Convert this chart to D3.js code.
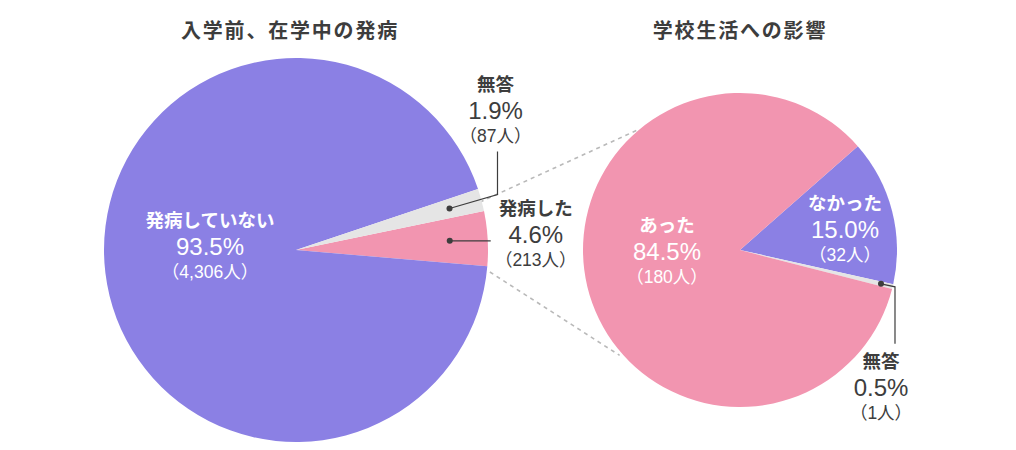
<!DOCTYPE html>
<html>
<head>
<meta charset="utf-8">
<script src="https://cdn.jsdelivr.net/npm/d3@7"></script>
<style>
  body { margin: 0; background: #fff; }
  text { font-family: "Liberation Sans", "Noto Sans CJK JP", sans-serif; }
</style>
</head>
<body>
<svg id="chart" width="1016" height="450"></svg>
<script>
// data
var onsetNames = ["発病した", "発病していない", "無答"];
var onsetPct = [4.6, 93.5, 1.9];
var onsetCount = ["213", "4,306", "87"];

var schoolNames = ["なかった", "無答", "あった"];
var schoolPct = [15.0, 0.5, 84.5];
var schoolCount = ["32", "1", "180"];

var svg = d3.select("#chart");
var rad = Math.PI / 180;

var purple = "#8b80e4", pink = "#f295b0", grey = "#e5e5e5", ink = "#3d3d3d";

// left pie + right pie setup
var left = {cx: 296, cy: 250, r: 192, start: 78.3, colors: [pink, purple, grey],
  names: onsetNames, pct: onsetPct, count: onsetCount, title: "入学前、在学中の発病", titleX: 290};
var right = {cx: 740, cy: 250, r: 157, start: 48.6, colors: [purple, grey, pink],
  names: schoolNames, pct: schoolPct, count: schoolCount, title: "学校生活への影響", titleX: 740};

function polar(p, deg, dist){
  return [p.cx + Math.sin(deg * rad) * dist, p.cy - Math.cos(deg * rad) * dist];
}

// dashed connectors (drawn first so the pies sit on top)
[[75.4, 190, 319.3, 158], [95.4, 188, 228.8, 160]].forEach(function(c){
  var a = polar(left, c[0], c[1]), b = polar(right, c[2], c[3]);
  svg.append("line")
    .attr("x1", a[0]).attr("y1", a[1])
    .attr("x2", b[0]).attr("y2", b[1])
    .attr("stroke", "#b9b9b9")
    .attr("stroke-width", 1.6)
    .attr("stroke-dasharray", "4,4");
});

function drawPie(p){
  var pie = d3.pie().sort(null)
    .startAngle(p.start * rad)
    .endAngle(p.start * rad + 2 * Math.PI);
  var arcs = pie(p.pct);
  var arc = d3.arc().innerRadius(0).outerRadius(p.r);

  var g = svg.append("g").attr("transform", "translate(" + p.cx + "," + p.cy + ")");
  g.selectAll("path")
    .data(arcs)
    .enter().append("path")
    .attr("d", arc)
    .attr("fill", function(d, i){ return p.colors[i]; });

  svg.append("text")
    .attr("x", p.titleX)
    .attr("y", 38)
    .attr("text-anchor", "middle")
    .attr("font-size", "20px")
    .attr("font-weight", "bold")
    .attr("letter-spacing", "1.8px")
    .attr("fill", ink)
    .text(p.title);
  return arcs;
}

function label(x, y, i, p, color){
  var t = svg.append("g").attr("transform", "translate(" + x + "," + y + ")")
    .attr("text-anchor", "middle").attr("fill", color);
  t.append("text").attr("y", -20).attr("font-size", "18.5px").attr("font-weight", "bold")
    .text(p.names[i]);
  t.append("text").attr("y", 8).attr("font-size", "24px")
    .text(p.pct[i].toFixed(1) + "%");
  t.append("text").attr("y", 31).attr("font-size", "17.5px")
    .text("（" + p.count[i] + "人）");
}

function leader(pts){
  svg.append("path")
    .attr("d", d3.line()(pts))
    .attr("fill", "none")
    .attr("stroke", ink)
    .attr("stroke-width", 1.2);
  svg.append("circle").attr("cx", pts[0][0]).attr("cy", pts[0][1]).attr("r", 3).attr("fill", ink);
}

function mid(a){ return (a.startAngle + a.endAngle) / 2 / rad; }

// left pie
var la = drawPie(left);
label(left.cx - 86, left.cy - 3, 1, left, "#fff");
var d0 = polar(left, mid(la[0]), 154);
leader([d0, [d0[0] + 41, d0[1]]]);
label(d0[0] + 86, d0[1] - 6, 0, left, ink);
var d2 = polar(left, mid(la[2]), 159);
leader([d2, [d2[0] + 48, d2[1] - 14], [d2[0] + 48, d2[1] - 57]]);
label(d2[0] + 46, d2[1] - 98, 2, left, ink);

// right pie
var ra = drawPie(right);
label(right.cx - 73, right.cy + 2, 2, right, "#fff");
label(right.cx + 105, right.cy - 20, 0, right, "#fff");
var d1 = polar(right, mid(ra[1]), 145);
leader([d1, [d1[0] + 14, d1[1] + 3], [d1[0] + 14, d1[1] + 60]]);
label(d1[0], d1[1] + 104, 1, right, ink);
</script>
</body>
</html>
